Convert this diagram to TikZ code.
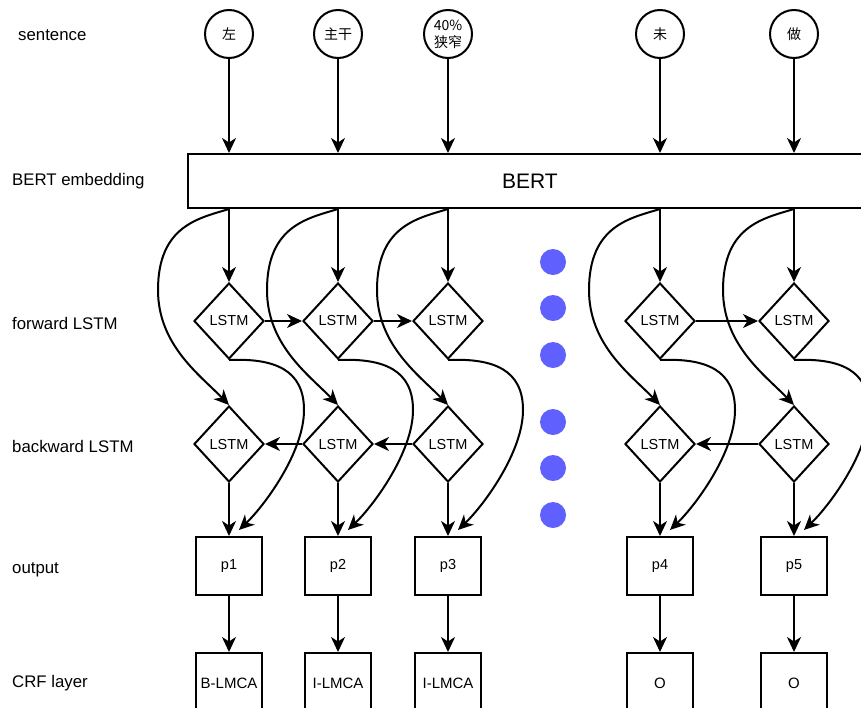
\documentclass[tikz,border=0pt]{standalone}
\usepackage{fontspec}
\setmainfont{Liberation Sans}
\newfontfamily\cjk{Noto Sans CJK SC}
\usetikzlibrary{shapes.geometric,arrows.meta}
\definecolor{dotblue}{RGB}{96,96,255}
\begin{document}
\begin{tikzpicture}[x=1pt,y=-1pt,
  arr/.style={line width=2pt,-{Stealth[length=15pt,width=14pt,inset=4.5pt]}},
  word/.style={circle,draw,line width=2pt,minimum size=48pt,inner sep=0pt,font=\cjk\fontsize{14}{16}\selectfont,align=center},
  lstm/.style={diamond,draw,line width=2pt,minimum width=70pt,minimum height=76pt,inner sep=0pt,font=\fontsize{14.5}{16}\selectfont},
  outbox/.style={rectangle,draw,line width=2pt,minimum width=66pt,minimum height=58pt,inner sep=0pt,font=\fontsize{14.5}{16}\selectfont},
  crfbox/.style={outbox,minimum height=60pt,font=\fontsize{15}{17}\selectfont},
  lab/.style={anchor=west,font=\fontsize{16.8}{19}\selectfont,inner sep=0pt},
  bdot/.style={circle,fill=dotblue,minimum size=26pt,inner sep=0pt}
]
\useasboundingbox (0,0) rectangle (861,707);

% left labels
\node[lab] (l1) at (18,35) {sentence};
\node[lab] (l2) at (12,181) {BERT embedding};
\node[lab] (l3) at (12,323) {forward LSTM};
\node[lab] (l4) at (12,446) {backward LSTM};
\node[lab] (l5) at (12,570) {output};
\node[lab] (l6) at (12,683) {CRF layer};

% words
\node[word] (w1) at (229,34) {左};
\node[word] (w2) at (338,34) {主干};
\node[word,font=\cjk\fontsize{14}{17}\selectfont] (w3) at (448,34) {40\%\\狭窄};
\node[word] (w4) at (660,34) {未};
\node[word] (w5) at (794,34) {做};

% BERT
\node[draw,line width=2pt,rectangle,anchor=north west,minimum width=690pt,minimum height=54pt,inner sep=0pt,font=\fontsize{21}{24}\selectfont] (bert) at (187,153) {\hspace*{-6pt}BERT};

% LSTMs, outputs, CRF
\foreach \i/\x in {1/229,2/338,3/448,4/660,5/794}{
  \node[lstm] (f\i) at (\x,321) {LSTM};
  \node[lstm] (b\i) at (\x,444) {LSTM};
}
\node[outbox] (p1) at (229,566) {p1};
\node[outbox] (p2) at (338,566) {p2};
\node[outbox] (p3) at (448,566) {p3};
\node[outbox] (p4) at (660,566) {p4};
\node[outbox] (p5) at (794,566) {p5};
\node[crfbox] (c1) at (229,683) {B-LMCA};
\node[crfbox] (c2) at (338,683) {I-LMCA};
\node[crfbox] (c3) at (448,683) {I-LMCA};
\node[crfbox] (c4) at (660,683) {O};
\node[crfbox] (c5) at (794,683) {O};

% dots
\foreach \j/\y in {1/262,2/308,3/355,4/422,5/468,6/515}{
  \node[bdot] (d\j) at (553,\y) {};
}

% connectors
\foreach \i/\x in {1/229,2/338,3/448,4/660,5/794}{
  \draw[arr] (w\i.south) -- (bert.north -| w\i.south);
  \draw[arr] (bert.south -| f\i.north) -- (f\i.north);
  \draw[arr] (bert.south -| f\i.north) .. controls (\x-29,218) and (\x-71,225) .. (\x-71,290)
              .. controls (\x-71,345) and (\x-29,375) .. (b\i.north);
  \draw[arr] (f\i.south) .. controls (\x+46,358) and (\x+75,370) .. (\x+75,410)
              .. controls (\x+75,452) and (\x+36,505) .. ([xshift=10pt,yshift=6pt]p\i.north);
  \draw[arr] (b\i.south) -- (p\i.north);
  \draw[arr] (p\i.south) -- (c\i.north);
}
\draw[arr] (f1.east) -- (f2.west);
\draw[arr] (f2.east) -- (f3.west);
\draw[arr] (f4.east) -- (f5.west);
\draw[arr] (b2.west) -- (b1.east);
\draw[arr] (b3.west) -- (b2.east);
\draw[arr] (b5.west) -- (b4.east);
\end{tikzpicture}
\end{document}
